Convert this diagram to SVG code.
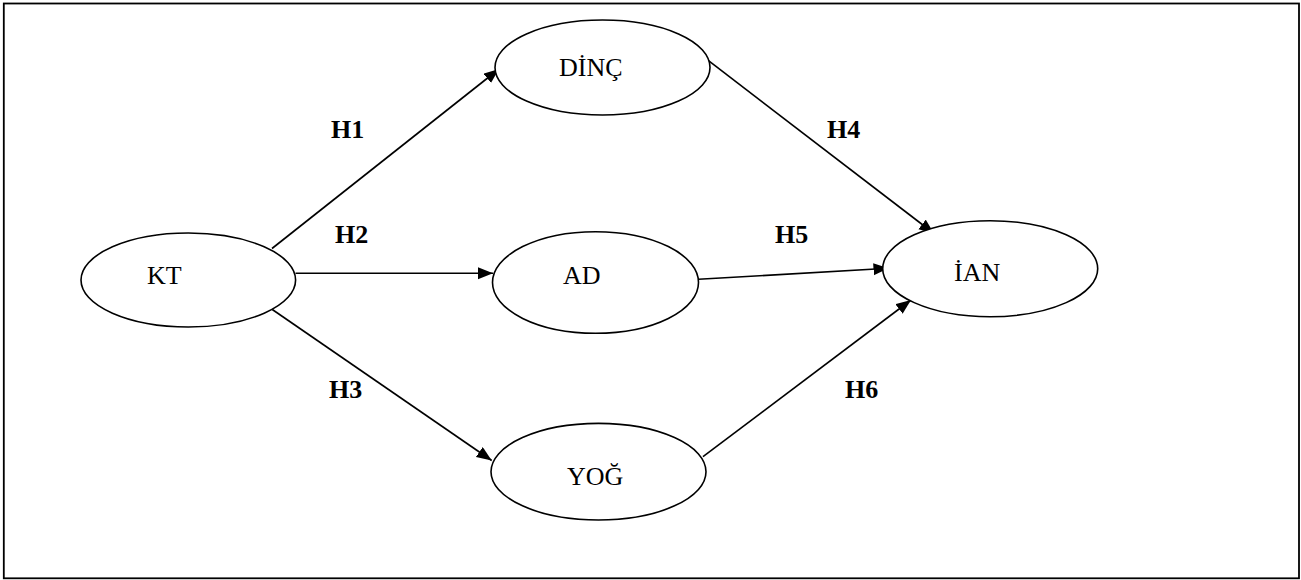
<svg xmlns="http://www.w3.org/2000/svg" width="1301" height="580" viewBox="0 0 1301 580">
<style>
.node ellipse{fill:#fff;stroke:#000;stroke-width:1.6}
.node text{font-family:"Liberation Serif","Times New Roman",serif;font-size:26px;fill:#000}
.conn line{stroke:#000;stroke-width:1.6;marker-end:url(#ah)}
.lbl{font-family:"Liberation Serif","Times New Roman",serif;font-size:26px;font-weight:bold;fill:#000}
</style>
<defs>
<marker id="ah" markerUnits="userSpaceOnUse" markerWidth="16" markerHeight="13" refX="15" refY="6" orient="auto">
<path d="M0,0 L15,6 L0,12 z" fill="#000"/>
</marker>
</defs>
<rect x="0" y="0" width="1301" height="580" fill="#fff"/>
<rect x="3.8" y="3.5" width="1295.2" height="574.8" fill="none" stroke="#000" stroke-width="1.8"/>
<g id="connectors" class="conn">
<line x1="272" y1="248.5" x2="499" y2="69"/>
<line x1="295.5" y1="273.3" x2="493" y2="273.3"/>
<line x1="272.3" y1="309.5" x2="491.7" y2="460.5"/>
<line x1="708.5" y1="60.7" x2="934" y2="233.5"/>
<line x1="698.5" y1="279.3" x2="888.5" y2="268.3"/>
<line x1="703" y1="456.7" x2="911" y2="300"/>
</g>
<g id="labels">
<text class="lbl" x="331" y="138">H1</text>
<text class="lbl" x="335" y="243">H2</text>
<text class="lbl" x="329" y="398">H3</text>
<text class="lbl" x="827" y="138">H4</text>
<text class="lbl" x="775" y="243">H5</text>
<text class="lbl" x="845" y="398">H6</text>
</g>
<g id="node-KT" class="node">
<ellipse cx="188.3" cy="280" rx="107.3" ry="47"/>
<text x="147" y="284">KT</text>
</g>
<g id="node-DINC" class="node">
<ellipse cx="602.5" cy="67.5" rx="107.5" ry="47.5"/>
<text x="559" y="76">DİNÇ</text>
</g>
<g id="node-AD" class="node">
<ellipse cx="595.5" cy="282.5" rx="103" ry="50.8"/>
<text x="563" y="284">AD</text>
</g>
<g id="node-YOG" class="node">
<ellipse cx="598.5" cy="471.7" rx="107.5" ry="48.3"/>
<text x="567" y="485">YOĞ</text>
</g>
<g id="node-IAN" class="node">
<ellipse cx="990.2" cy="268.7" rx="107.5" ry="48"/>
<text x="954" y="281">İAN</text>
</g>
</svg>
